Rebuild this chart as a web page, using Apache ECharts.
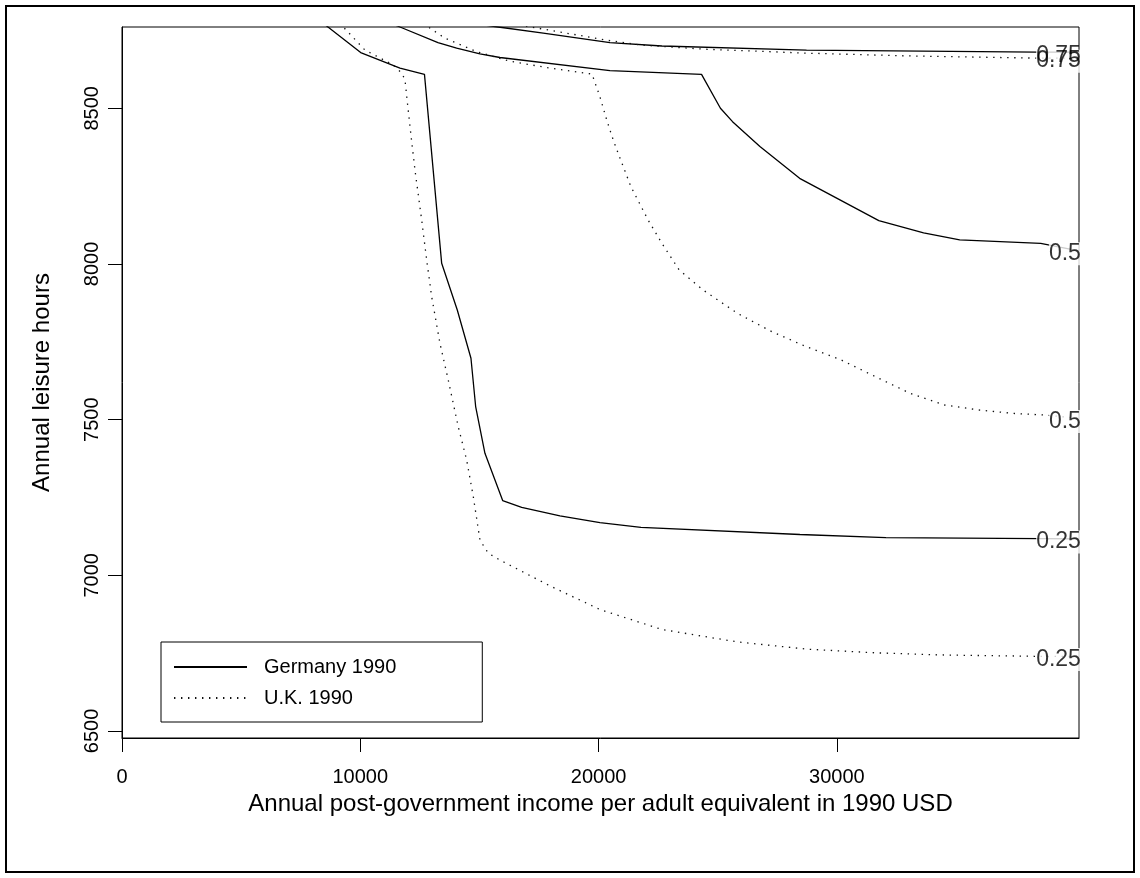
<!DOCTYPE html>
<html>
<head>
<meta charset="utf-8">
<script src="https://cdn.jsdelivr.net/npm/echarts@6/dist/echarts.min.js"></script>
<style>
  html, body { margin: 0; padding: 0; background: #fff; }
  #chart { width: 1140px; height: 878px; }
</style>
</head>
<body>
<div id="chart"></div>
<script>
// Leisure hours vs. post-government income, contour levels 0.25 / 0.5 / 0.75
const xTicks = [0, 10000, 20000, 30000];
const yTicks = [6500, 7000, 7500, 8000, 8500];
const levels = ['0.25', '0.5', '0.75'];

// Germany 1990 contours: [income, leisure hours]
const germany025 = [
  [7469, 8832], [8644, 8761], [10016, 8679], [11665, 8629], [12693, 8609],
  [13415, 8002], [14070, 7852], [14644, 7697], [14841, 7542], [15231, 7392],
  [15974, 7240], [16772, 7218], [18378, 7191], [20057, 7169], [21777, 7154],
  [28449, 7131], [32057, 7121], [40156, 7117]
];
const germany050 = [
  [9986, 8812], [11665, 8761], [13259, 8711], [14044, 8693], [15022, 8675],
  [15861, 8663], [20476, 8621], [24320, 8609], [25113, 8500], [25621, 8457],
  [26770, 8377], [28436, 8275], [31759, 8139], [33639, 8100], [35154, 8077],
  [38553, 8066], [40156, 8042]
];
const germany075 = [
  [11665, 8806], [15790, 8761], [17678, 8741], [20476, 8711], [22658, 8700],
  [28726, 8687], [38406, 8680], [40156, 8680]
];

// U.K. 1990 contours: [income, leisure hours]
const uk025 = [
  [8518, 8822], [9286, 8761], [10196, 8687], [11384, 8639], [11749, 8612],
  [11875, 8591], [12085, 8441], [12294, 8302], [12576, 8141], [12785, 8013],
  [12995, 7895], [13343, 7745], [13692, 7627], [14111, 7477], [14464, 7370],
  [14741, 7253], [15022, 7113], [15370, 7071], [15861, 7049], [17959, 6966],
  [20057, 6890], [22658, 6826], [25835, 6786], [28726, 6763], [31617, 6751],
  [34509, 6744], [38264, 6740], [40156, 6739]
];
const uk050 = [
  [11665, 8822], [12853, 8761], [13553, 8725], [14883, 8682], [16280, 8651],
  [17959, 8629], [19721, 8610], [20057, 8537], [20338, 8463], [20615, 8398],
  [20896, 8340], [21358, 8248], [22079, 8141], [22658, 8066], [23380, 7981],
  [24391, 7916], [25835, 7841], [27282, 7782], [28726, 7734], [30169, 7692],
  [31617, 7638], [33060, 7585], [34508, 7547], [35952, 7531], [37395, 7520],
  [38696, 7515], [40156, 7504]
];
const uk075 = [
  [13763, 8803], [17468, 8757], [20476, 8717], [21790, 8703], [24391, 8690],
  [28726, 8677], [33060, 8668], [38406, 8661], [40156, 8661]
];

const germanyCurves = [germany025, germany050, germany075];
const ukCurves = [uk025, uk050, uk075];

const FONT = '"Liberation Sans", Arial, Helvetica, sans-serif';
const solidStyle = { color: '#000', width: 1.3, type: 'solid' };
const dottedStyle = { color: '#111', width: 1.3, type: [1.4, 5.6] };

function curveSeries(name, data, style) {
  return {
    name: name,
    type: 'line',
    data: data,
    symbol: 'none',
    clip: true,
    silent: true,
    lineStyle: style,
    itemStyle: { color: style.color },
    z: 2
  };
}

const labelText = {
  show: true,
  position: 'left',
  distance: 0,
  offset: [2, 3],
  formatter: (p) => p.data.level,
  fontFamily: FONT,
  fontSize: 23,
  color: '#000'
};

// level labels sit at the right end of each curve
function labelSeries(curves, withBackground, z) {
  return {
    name: 'levels',
    type: 'scatter',
    symbolSize: 0,
    silent: true,
    z: z,
    data: curves.map((c, i) => {
      const last = c[c.length - 1];
      return { value: [last[0], last[1]], level: levels[i] };
    }),
    label: Object.assign({}, labelText, {
      backgroundColor: withBackground ? '#fff' : 'transparent',
      padding: 0
    })
  };
}

const series = [];
germanyCurves.forEach(c => series.push(curveSeries('Germany 1990', c, solidStyle)));
ukCurves.forEach(c => series.push(curveSeries('U.K. 1990', c, dottedStyle)));
series.push(labelSeries(ukCurves, true, 5));
series.push(labelSeries(germanyCurves.slice(0, 2), true, 5));
series.push({
  name: 'levels',
  type: 'scatter',
  symbolSize: 0,
  silent: true,
  z: 6,
  data: [{ value: germany075[germany075.length - 1], level: levels[2] }],
  label: labelText
});

const plain = (v) => String(v);

const chart = echarts.init(document.getElementById('chart'), null, { renderer: 'canvas' });
chart.setOption({
  animation: false,
  backgroundColor: '#fff',
  textStyle: { fontFamily: FONT, color: '#000' },
  grid: {
    left: 122, top: 27, width: 957, height: 711,
    show: true, borderColor: '#000', borderWidth: 1, backgroundColor: 'transparent'
  },
  legend: {
    data: ['Germany 1990', 'U.K. 1990'],
    orient: 'vertical',
    left: 161, top: 642,
    width: 321,
    padding: [15, 86, 14, 12],
    itemGap: 11,
    itemWidth: 73,
    itemHeight: 20,
    borderColor: '#000',
    borderWidth: 1,
    backgroundColor: '#fff',
    selectedMode: false,
    itemStyle: { opacity: 0 },
    textStyle: { fontFamily: FONT, fontSize: 20, color: '#000', padding: [0, 0, 0, 12] }
  },
  xAxis: {
    type: 'value',
    min: 0,
    max: 40160,
    name: 'Annual post-government income per adult equivalent in 1990 USD',
    nameLocation: 'middle',
    nameGap: 54,
    nameTextStyle: { fontFamily: FONT, fontSize: 24, color: '#000' },
    axisLine: { show: true, onZero: false, lineStyle: { color: '#000', width: 1 } },
    axisTick: { show: true, inside: false, length: 14, customValues: xTicks, lineStyle: { color: '#000' } },
    axisLabel: { show: true, customValues: xTicks, formatter: plain, margin: 29, fontFamily: FONT, fontSize: 20, color: '#000' },
    splitLine: { show: false }
  },
  yAxis: {
    type: 'value',
    min: 6477.5,
    max: 8761,
    name: 'Annual leisure hours',
    nameLocation: 'middle',
    nameGap: 68,
    nameRotate: 90,
    nameTextStyle: { fontFamily: FONT, fontSize: 24, color: '#000' },
    axisLine: { show: true, onZero: false, lineStyle: { color: '#000', width: 1 } },
    axisTick: { show: true, inside: false, length: 14, customValues: yTicks, lineStyle: { color: '#000' } },
    axisLabel: { show: true, customValues: yTicks, formatter: plain, rotate: 90, margin: 20, fontFamily: FONT, fontSize: 20, color: '#000' },
    splitLine: { show: false }
  },
  graphic: [{
    type: 'rect',
    shape: { x: 6, y: 6, width: 1128, height: 866 },
    style: { fill: 'none', stroke: '#000', lineWidth: 2 },
    silent: true,
    z: 100
  }],
  series: series
});
</script>
</body>
</html>
